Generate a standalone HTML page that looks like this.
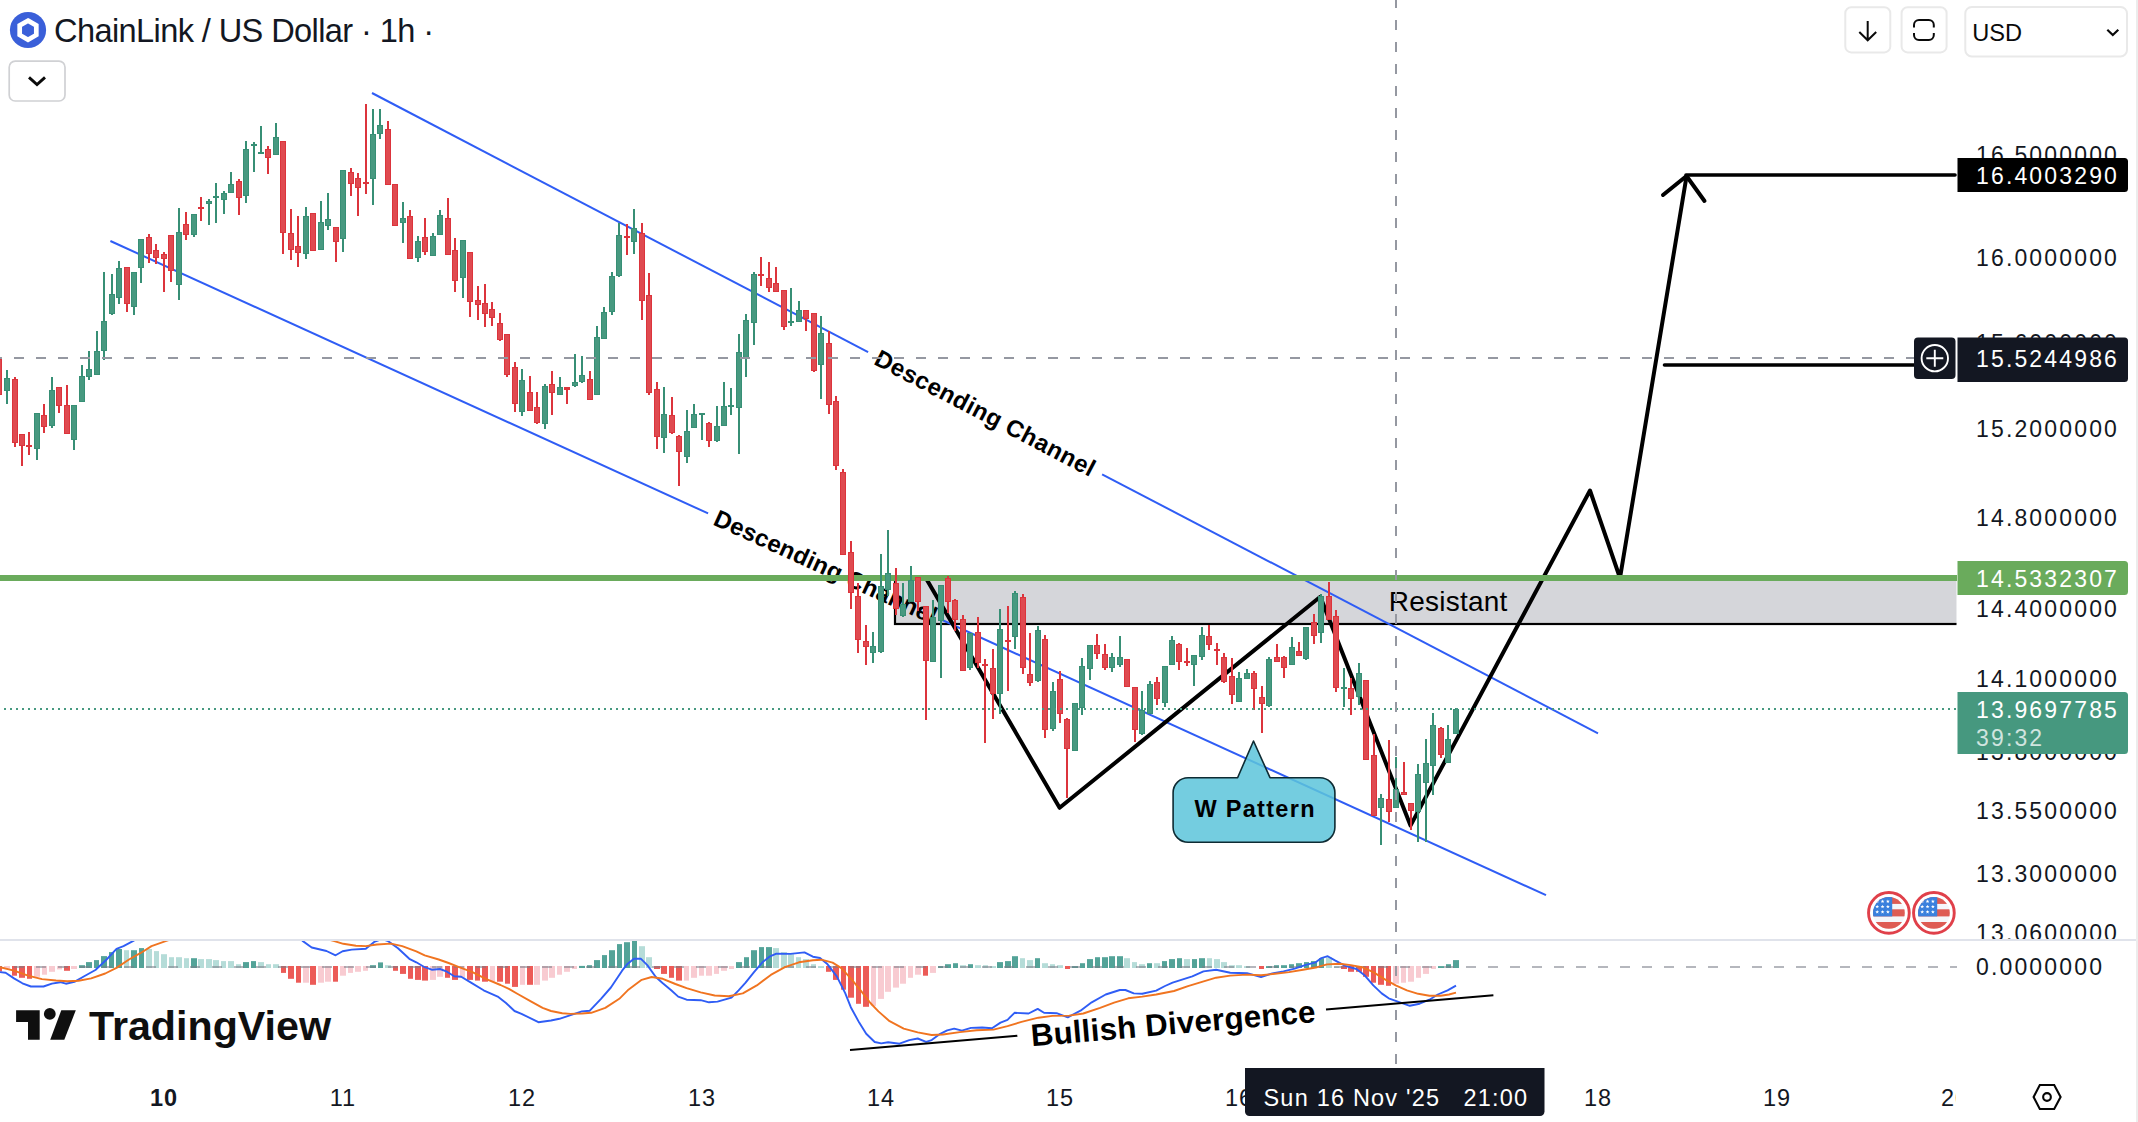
<!DOCTYPE html>
<html lang="en"><head><meta charset="utf-8"><title>ChainLink / US Dollar</title>
<style>
html,body{margin:0;padding:0;background:#fff;}
body{width:2138px;height:1122px;overflow:hidden;font-family:'Liberation Sans', Arial, sans-serif;}
svg{display:block;}
text{font-family:'Liberation Sans', Arial, sans-serif;}
.ax{font-size:23px;fill:#131722;letter-spacing:2.15px;}
.tm{font-size:23.5px;fill:#131722;letter-spacing:1px;}
</style></head><body>
<svg width="2138" height="1122" viewBox="0 0 2138 1122">
<rect width="2138" height="1122" fill="#ffffff"/>

<text class="ax" x="1976" y="163.2">16.5000000</text>
<text class="ax" x="1976" y="266.2">16.0000000</text>
<text class="ax" x="1976" y="351.2">15.6000000</text>
<text class="ax" x="1976" y="437.2">15.2000000</text>
<text class="ax" x="1976" y="526.2">14.8000000</text>
<text class="ax" x="1976" y="617.2">14.4000000</text>
<text class="ax" x="1976" y="687.2">14.1000000</text>
<text class="ax" x="1976" y="760.2">13.8000000</text>
<text class="ax" x="1976" y="819.2">13.5500000</text>
<text class="ax" x="1976" y="882.2">13.3000000</text>
<text class="ax" x="1976" y="941.2">13.0600000</text>
<rect x="0" y="940" width="2138" height="40" fill="#fff"/>
<rect x="0" y="939" width="2138" height="2" fill="#e0e3eb"/>
<text class="ax" x="1976" y="975.2">0.0000000</text>
<clipPath id="pc"><rect x="0" y="0" width="1956.5" height="939"/></clipPath>
<rect x="895" y="578" width="1100" height="46" fill="rgba(120,123,134,0.31)" stroke="#000" stroke-width="2.2" clip-path="url(#pc)"/>
<g stroke="#2f5df5" stroke-width="2" fill="none" stroke-linecap="butt">
<line x1="372" y1="93.0" x2="868.1" y2="352.1"/>
<line x1="1102.1" y1="474.3" x2="1598" y2="733.3"/>
<line x1="110.4" y1="241.0" x2="708.1" y2="513.4"/>
<line x1="940" y1="619.0" x2="1546" y2="895.2"/>
</g>
<text x="985.1" y="413.2" transform="rotate(27.57 985.1 413.2)" text-anchor="middle" dy="8.2" font-size="24" font-weight="700" fill="#000" textLength="245" lengthAdjust="spacing">Descending Channel</text>
<text x="825.5" y="566.9" transform="rotate(24.50 825.5 566.9)" text-anchor="middle" dy="8.2" font-size="24" font-weight="700" fill="#000" textLength="242" lengthAdjust="spacing">Descending Channel</text>
<text x="1388.8" y="610.8" font-size="28" fill="#000" textLength="118.5" lengthAdjust="spacing">Resistant</text>
<path d="M1188.1 777.7 H1237.6 L1253.5 741 L1270 777.7 H1319.9 a15 15 0 0 1 15 15 V827.3 a15 15 0 0 1 -15 15 H1188.1 a15 15 0 0 1 -15 -15 V792.7 a15 15 0 0 1 15 -15 Z" fill="#5cc4db" fill-opacity="0.85" stroke="#0e2b33" stroke-width="1.6" stroke-linejoin="round"/>
<text x="1254.5" y="817" text-anchor="middle" font-size="23.5" font-weight="700" fill="#000" textLength="120" lengthAdjust="spacing">W Pattern</text>
<g stroke="#000" stroke-width="4" fill="none" stroke-linejoin="round" stroke-linecap="butt">
<polyline points="927,580 1059.6,807.8 1320.3,596.8 1410.5,825.6 1590,490.5 1620,578 1686.5,176.5"/>
<polyline points="1663,195 1686.5,176 1704.5,201" stroke-linecap="round" stroke-linejoin="round"/>
<line x1="1686" y1="175" x2="1955" y2="175" stroke-width="3.6" stroke-linecap="round"/>
<line x1="1664.5" y1="365" x2="1916" y2="365" stroke-width="3.6" stroke-linecap="round"/>
</g>
<rect x="0" y="575" width="1957" height="6" fill="#6aab5c"/>
<g shape-rendering="crispEdges"><rect x="-2" y="358.5" width="2" height="36.5" fill="#dc343c"/><rect x="6" y="370" width="2" height="34" fill="#378f75"/><rect x="14" y="377" width="2" height="70" fill="#dc343c"/><rect x="21" y="434" width="2" height="32" fill="#dc343c"/><rect x="28" y="432" width="2" height="23" fill="#dc343c"/><rect x="36" y="413" width="2" height="47" fill="#378f75"/><rect x="43" y="404" width="2" height="29" fill="#dc343c"/><rect x="51" y="377" width="2" height="51" fill="#378f75"/><rect x="58" y="387" width="2" height="26" fill="#dc343c"/><rect x="66" y="385" width="2" height="49" fill="#dc343c"/><rect x="73" y="405" width="2" height="45" fill="#378f75"/><rect x="81" y="365" width="2" height="37" fill="#378f75"/><rect x="88" y="351" width="2" height="29" fill="#378f75"/><rect x="96" y="331" width="2" height="44" fill="#378f75"/><rect x="103" y="272" width="2" height="88" fill="#378f75"/><rect x="111" y="274" width="2" height="41" fill="#378f75"/><rect x="118" y="261" width="2" height="43" fill="#378f75"/><rect x="126" y="267" width="2" height="45" fill="#dc343c"/><rect x="133" y="272" width="2" height="43" fill="#378f75"/><rect x="140" y="239" width="2" height="44" fill="#378f75"/><rect x="148" y="234" width="2" height="29" fill="#dc343c"/><rect x="155" y="244" width="2" height="20" fill="#dc343c"/><rect x="163" y="252" width="2" height="40" fill="#dc343c"/><rect x="170" y="235" width="2" height="47" fill="#dc343c"/><rect x="178" y="208" width="2" height="92" fill="#378f75"/><rect x="185" y="212" width="2" height="28" fill="#dc343c"/><rect x="193" y="214" width="2" height="23" fill="#378f75"/><rect x="200" y="197" width="2" height="24" fill="#dc343c"/><rect x="208" y="199" width="2" height="26" fill="#378f75"/><rect x="215" y="183" width="2" height="40" fill="#378f75"/><rect x="223" y="191" width="2" height="23" fill="#378f75"/><rect x="230" y="172" width="2" height="21" fill="#378f75"/><rect x="238" y="179" width="2" height="36" fill="#dc343c"/><rect x="245" y="141" width="2" height="62" fill="#378f75"/><rect x="253" y="142" width="2" height="30" fill="#378f75"/><rect x="260" y="126" width="2" height="28" fill="#378f75"/><rect x="267" y="146" width="2" height="28" fill="#dc343c"/><rect x="275" y="123" width="2" height="32" fill="#378f75"/><rect x="282" y="141" width="2" height="113" fill="#dc343c"/><rect x="290" y="209" width="2" height="51" fill="#dc343c"/><rect x="297" y="216" width="2" height="51" fill="#dc343c"/><rect x="305" y="207" width="2" height="52" fill="#378f75"/><rect x="312" y="213" width="2" height="38" fill="#dc343c"/><rect x="320" y="201" width="2" height="49" fill="#378f75"/><rect x="327" y="193" width="2" height="37" fill="#378f75"/><rect x="335" y="227" width="2" height="35" fill="#dc343c"/><rect x="342" y="170" width="2" height="82" fill="#378f75"/><rect x="350" y="168" width="2" height="28" fill="#dc343c"/><rect x="357" y="173" width="2" height="43" fill="#dc343c"/><rect x="365" y="104" width="2" height="90" fill="#dc343c"/><rect x="372" y="109" width="2" height="96" fill="#378f75"/><rect x="379" y="109" width="2" height="30" fill="#378f75"/><rect x="387" y="121" width="2" height="64" fill="#dc343c"/><rect x="394" y="184" width="2" height="42" fill="#dc343c"/><rect x="402" y="202" width="2" height="41" fill="#378f75"/><rect x="409" y="210" width="2" height="49" fill="#dc343c"/><rect x="417" y="236" width="2" height="26" fill="#378f75"/><rect x="424" y="218" width="2" height="37" fill="#dc343c"/><rect x="432" y="233" width="2" height="23" fill="#378f75"/><rect x="439" y="210" width="2" height="25" fill="#378f75"/><rect x="447" y="198" width="2" height="57" fill="#dc343c"/><rect x="454" y="238" width="2" height="54" fill="#dc343c"/><rect x="462" y="240" width="2" height="58" fill="#378f75"/><rect x="469" y="252" width="2" height="65" fill="#dc343c"/><rect x="477" y="286" width="2" height="34" fill="#dc343c"/><rect x="484" y="284" width="2" height="43" fill="#dc343c"/><rect x="491" y="302" width="2" height="24" fill="#dc343c"/><rect x="499" y="313" width="2" height="28" fill="#dc343c"/><rect x="506" y="334" width="2" height="43" fill="#dc343c"/><rect x="514" y="362" width="2" height="50" fill="#dc343c"/><rect x="521" y="369" width="2" height="47" fill="#378f75"/><rect x="529" y="376" width="2" height="35" fill="#dc343c"/><rect x="536" y="392" width="2" height="32" fill="#dc343c"/><rect x="544" y="384" width="2" height="45" fill="#378f75"/><rect x="551" y="371" width="2" height="44" fill="#dc343c"/><rect x="559" y="377" width="2" height="18" fill="#378f75"/><rect x="566" y="387" width="2" height="17" fill="#dc343c"/><rect x="574" y="354" width="2" height="33" fill="#378f75"/><rect x="581" y="356" width="2" height="27" fill="#378f75"/><rect x="589" y="371" width="2" height="29" fill="#dc343c"/><rect x="596" y="326" width="2" height="69" fill="#378f75"/><rect x="603" y="307" width="2" height="32" fill="#378f75"/><rect x="611" y="272" width="2" height="43" fill="#378f75"/><rect x="618" y="223" width="2" height="54" fill="#378f75"/><rect x="626" y="224" width="2" height="31" fill="#dc343c"/><rect x="633" y="209" width="2" height="45" fill="#378f75"/><rect x="641" y="223" width="2" height="97" fill="#dc343c"/><rect x="648" y="273" width="2" height="122" fill="#dc343c"/><rect x="656" y="382" width="2" height="67" fill="#dc343c"/><rect x="663" y="387" width="2" height="66" fill="#378f75"/><rect x="671" y="397" width="2" height="37" fill="#dc343c"/><rect x="678" y="435" width="2" height="51" fill="#dc343c"/><rect x="686" y="410" width="2" height="53" fill="#378f75"/><rect x="693" y="404" width="2" height="24" fill="#378f75"/><rect x="701" y="413" width="2" height="27" fill="#378f75"/><rect x="708" y="422" width="2" height="25" fill="#dc343c"/><rect x="716" y="406" width="2" height="36" fill="#378f75"/><rect x="723" y="382" width="2" height="44" fill="#378f75"/><rect x="730" y="388" width="2" height="27" fill="#378f75"/><rect x="738" y="334" width="2" height="120" fill="#378f75"/><rect x="745" y="314" width="2" height="63" fill="#378f75"/><rect x="753" y="272" width="2" height="73" fill="#378f75"/><rect x="760" y="257" width="2" height="29" fill="#dc343c"/><rect x="768" y="262" width="2" height="30" fill="#dc343c"/><rect x="775" y="267" width="2" height="25" fill="#dc343c"/><rect x="783" y="290" width="2" height="40" fill="#dc343c"/><rect x="790" y="288" width="2" height="38" fill="#378f75"/><rect x="798" y="301" width="2" height="21" fill="#378f75"/><rect x="805" y="310" width="2" height="21" fill="#dc343c"/><rect x="813" y="313" width="2" height="59" fill="#dc343c"/><rect x="820" y="316" width="2" height="83" fill="#378f75"/><rect x="828" y="331" width="2" height="83" fill="#dc343c"/><rect x="835" y="396" width="2" height="74" fill="#dc343c"/><rect x="842" y="469" width="2" height="86" fill="#dc343c"/><rect x="850" y="541" width="2" height="68" fill="#dc343c"/><rect x="857" y="583" width="2" height="70" fill="#dc343c"/><rect x="865" y="625" width="2" height="40" fill="#dc343c"/><rect x="872" y="632" width="2" height="31" fill="#378f75"/><rect x="880" y="554" width="2" height="99" fill="#378f75"/><rect x="887" y="530" width="2" height="66" fill="#378f75"/><rect x="895" y="568" width="2" height="47" fill="#dc343c"/><rect x="902" y="583" width="2" height="34" fill="#378f75"/><rect x="910" y="566" width="2" height="36" fill="#378f75"/><rect x="917" y="577" width="2" height="34" fill="#dc343c"/><rect x="925" y="606" width="2" height="114" fill="#dc343c"/><rect x="932" y="600" width="2" height="62" fill="#378f75"/><rect x="940" y="585" width="2" height="93" fill="#378f75"/><rect x="947" y="576" width="2" height="37" fill="#dc343c"/><rect x="954" y="599" width="2" height="32" fill="#dc343c"/><rect x="962" y="615" width="2" height="56" fill="#dc343c"/><rect x="969" y="633" width="2" height="37" fill="#378f75"/><rect x="977" y="617" width="2" height="51" fill="#dc343c"/><rect x="984" y="659" width="2" height="84" fill="#dc343c"/><rect x="992" y="649" width="2" height="70" fill="#dc343c"/><rect x="999" y="609" width="2" height="105" fill="#378f75"/><rect x="1007" y="606" width="2" height="85" fill="#dc343c"/><rect x="1014" y="591" width="2" height="58" fill="#378f75"/><rect x="1022" y="594" width="2" height="80" fill="#dc343c"/><rect x="1029" y="633" width="2" height="53" fill="#dc343c"/><rect x="1037" y="626" width="2" height="56" fill="#378f75"/><rect x="1044" y="635" width="2" height="103" fill="#dc343c"/><rect x="1052" y="682" width="2" height="49" fill="#378f75"/><rect x="1059" y="671" width="2" height="52" fill="#dc343c"/><rect x="1066" y="718" width="2" height="80" fill="#dc343c"/><rect x="1074" y="703" width="2" height="48" fill="#378f75"/><rect x="1081" y="658" width="2" height="57" fill="#378f75"/><rect x="1089" y="645" width="2" height="35" fill="#378f75"/><rect x="1096" y="634" width="2" height="25" fill="#dc343c"/><rect x="1104" y="644" width="2" height="26" fill="#dc343c"/><rect x="1111" y="653" width="2" height="19" fill="#378f75"/><rect x="1119" y="636" width="2" height="31" fill="#378f75"/><rect x="1126" y="659" width="2" height="28" fill="#dc343c"/><rect x="1134" y="687" width="2" height="55" fill="#dc343c"/><rect x="1141" y="691" width="2" height="44" fill="#378f75"/><rect x="1149" y="681" width="2" height="33" fill="#378f75"/><rect x="1156" y="677" width="2" height="28" fill="#dc343c"/><rect x="1164" y="666" width="2" height="41" fill="#378f75"/><rect x="1171" y="636" width="2" height="29" fill="#378f75"/><rect x="1178" y="643" width="2" height="27" fill="#dc343c"/><rect x="1186" y="648" width="2" height="18" fill="#dc343c"/><rect x="1193" y="655" width="2" height="31" fill="#378f75"/><rect x="1201" y="627" width="2" height="33" fill="#378f75"/><rect x="1208" y="625" width="2" height="25" fill="#dc343c"/><rect x="1216" y="643" width="2" height="22" fill="#dc343c"/><rect x="1223" y="653" width="2" height="30" fill="#dc343c"/><rect x="1231" y="658" width="2" height="46" fill="#dc343c"/><rect x="1238" y="672" width="2" height="30" fill="#378f75"/><rect x="1246" y="669" width="2" height="10" fill="#378f75"/><rect x="1253" y="671" width="2" height="39" fill="#dc343c"/><rect x="1261" y="686" width="2" height="47" fill="#dc343c"/><rect x="1268" y="657" width="2" height="50" fill="#378f75"/><rect x="1276" y="644" width="2" height="18" fill="#dc343c"/><rect x="1283" y="656" width="2" height="22" fill="#dc343c"/><rect x="1291" y="637" width="2" height="28" fill="#378f75"/><rect x="1298" y="642" width="2" height="14" fill="#dc343c"/><rect x="1305" y="627" width="2" height="33" fill="#378f75"/><rect x="1313" y="614" width="2" height="30" fill="#dc343c"/><rect x="1320" y="594" width="2" height="49" fill="#378f75"/><rect x="1328" y="582" width="2" height="38" fill="#dc343c"/><rect x="1335" y="610" width="2" height="82" fill="#dc343c"/><rect x="1343" y="668" width="2" height="39" fill="#378f75"/><rect x="1350" y="678" width="2" height="37" fill="#dc343c"/><rect x="1358" y="663" width="2" height="42" fill="#378f75"/><rect x="1365" y="680" width="2" height="80" fill="#dc343c"/><rect x="1373" y="734" width="2" height="82" fill="#dc343c"/><rect x="1380" y="794" width="2" height="51" fill="#378f75"/><rect x="1388" y="740" width="2" height="82" fill="#dc343c"/><rect x="1395" y="757" width="2" height="51" fill="#378f75"/><rect x="1403" y="762" width="2" height="33" fill="#dc343c"/><rect x="1410" y="803" width="2" height="27" fill="#dc343c"/><rect x="1417" y="764" width="2" height="78" fill="#378f75"/><rect x="1425" y="739" width="2" height="103" fill="#378f75"/><rect x="1432" y="713" width="2" height="82" fill="#378f75"/><rect x="1440" y="727" width="2" height="31" fill="#dc343c"/><rect x="1447" y="725" width="2" height="38" fill="#378f75"/><rect x="1455" y="708" width="2" height="26" fill="#378f75"/><rect x="-4" y="358.5" width="6" height="36.5" fill="#dc343c"/><rect x="-3" y="359.5" width="4" height="34.5" fill="#df4a50"/><rect x="4" y="378" width="6" height="13" fill="#378f75"/><rect x="5" y="379" width="4" height="11" fill="#479980"/><rect x="12" y="379" width="6" height="64" fill="#dc343c"/><rect x="13" y="380" width="4" height="62" fill="#df4a50"/><rect x="19" y="434" width="6" height="12" fill="#dc343c"/><rect x="20" y="435" width="4" height="10" fill="#df4a50"/><rect x="26" y="445" width="6" height="2" fill="#dc343c"/><rect x="34" y="413" width="6" height="36" fill="#378f75"/><rect x="35" y="414" width="4" height="34" fill="#479980"/><rect x="41" y="415" width="6" height="12" fill="#dc343c"/><rect x="42" y="416" width="4" height="10" fill="#df4a50"/><rect x="49" y="390" width="6" height="36" fill="#378f75"/><rect x="50" y="391" width="4" height="34" fill="#479980"/><rect x="56" y="387" width="6" height="19" fill="#dc343c"/><rect x="57" y="388" width="4" height="17" fill="#df4a50"/><rect x="64" y="405" width="6" height="29" fill="#dc343c"/><rect x="65" y="406" width="4" height="27" fill="#df4a50"/><rect x="71" y="405" width="6" height="35" fill="#378f75"/><rect x="72" y="406" width="4" height="33" fill="#479980"/><rect x="79" y="376" width="6" height="26" fill="#378f75"/><rect x="80" y="377" width="4" height="24" fill="#479980"/><rect x="86" y="369" width="6" height="8" fill="#378f75"/><rect x="87" y="370" width="4" height="6" fill="#479980"/><rect x="94" y="351" width="6" height="24" fill="#378f75"/><rect x="95" y="352" width="4" height="22" fill="#479980"/><rect x="101" y="321" width="6" height="30" fill="#378f75"/><rect x="102" y="322" width="4" height="28" fill="#479980"/><rect x="109" y="294" width="6" height="20" fill="#378f75"/><rect x="110" y="295" width="4" height="18" fill="#479980"/><rect x="116" y="268" width="6" height="30" fill="#378f75"/><rect x="117" y="269" width="4" height="28" fill="#479980"/><rect x="124" y="267" width="6" height="37" fill="#dc343c"/><rect x="125" y="268" width="4" height="35" fill="#df4a50"/><rect x="131" y="272" width="6" height="35" fill="#378f75"/><rect x="132" y="273" width="4" height="33" fill="#479980"/><rect x="138" y="239" width="6" height="29" fill="#378f75"/><rect x="139" y="240" width="4" height="27" fill="#479980"/><rect x="146" y="237" width="6" height="17" fill="#dc343c"/><rect x="147" y="238" width="4" height="15" fill="#df4a50"/><rect x="153" y="250" width="6" height="8" fill="#dc343c"/><rect x="154" y="251" width="4" height="6" fill="#df4a50"/><rect x="161" y="254" width="6" height="5" fill="#dc343c"/><rect x="162" y="255" width="4" height="3" fill="#df4a50"/><rect x="168" y="235" width="6" height="36" fill="#dc343c"/><rect x="169" y="236" width="4" height="34" fill="#df4a50"/><rect x="176" y="232" width="6" height="53" fill="#378f75"/><rect x="177" y="233" width="4" height="51" fill="#479980"/><rect x="183" y="224" width="6" height="11" fill="#dc343c"/><rect x="184" y="225" width="4" height="9" fill="#df4a50"/><rect x="191" y="214" width="6" height="21" fill="#378f75"/><rect x="192" y="215" width="4" height="19" fill="#479980"/><rect x="198" y="207" width="6" height="2" fill="#dc343c"/><rect x="206" y="201" width="6" height="3" fill="#378f75"/><rect x="207" y="202" width="4" height="1" fill="#479980"/><rect x="213" y="196" width="6" height="2" fill="#378f75"/><rect x="221" y="193" width="6" height="7" fill="#378f75"/><rect x="222" y="194" width="4" height="5" fill="#479980"/><rect x="228" y="184" width="6" height="9" fill="#378f75"/><rect x="229" y="185" width="4" height="7" fill="#479980"/><rect x="236" y="181" width="6" height="17" fill="#dc343c"/><rect x="237" y="182" width="4" height="15" fill="#df4a50"/><rect x="243" y="149" width="6" height="47" fill="#378f75"/><rect x="244" y="150" width="4" height="45" fill="#479980"/><rect x="251" y="144" width="6" height="2" fill="#378f75"/><rect x="258" y="152" width="6" height="2" fill="#378f75"/><rect x="265" y="149" width="6" height="9" fill="#dc343c"/><rect x="266" y="150" width="4" height="7" fill="#df4a50"/><rect x="273" y="137" width="6" height="18" fill="#378f75"/><rect x="274" y="138" width="4" height="16" fill="#479980"/><rect x="280" y="141" width="6" height="92" fill="#dc343c"/><rect x="281" y="142" width="4" height="90" fill="#df4a50"/><rect x="288" y="233" width="6" height="17" fill="#dc343c"/><rect x="289" y="234" width="4" height="15" fill="#df4a50"/><rect x="295" y="246" width="6" height="7" fill="#dc343c"/><rect x="296" y="247" width="4" height="5" fill="#df4a50"/><rect x="303" y="216" width="6" height="38" fill="#378f75"/><rect x="304" y="217" width="4" height="36" fill="#479980"/><rect x="310" y="213" width="6" height="38" fill="#dc343c"/><rect x="311" y="214" width="4" height="36" fill="#df4a50"/><rect x="318" y="222" width="6" height="28" fill="#378f75"/><rect x="319" y="223" width="4" height="26" fill="#479980"/><rect x="325" y="219" width="6" height="7" fill="#378f75"/><rect x="326" y="220" width="4" height="5" fill="#479980"/><rect x="333" y="227" width="6" height="15" fill="#dc343c"/><rect x="334" y="228" width="4" height="13" fill="#df4a50"/><rect x="340" y="170" width="6" height="69" fill="#378f75"/><rect x="341" y="171" width="4" height="67" fill="#479980"/><rect x="348" y="172" width="6" height="12" fill="#dc343c"/><rect x="349" y="173" width="4" height="10" fill="#df4a50"/><rect x="355" y="178" width="6" height="10" fill="#dc343c"/><rect x="356" y="179" width="4" height="8" fill="#df4a50"/><rect x="363" y="182" width="6" height="2" fill="#dc343c"/><rect x="370" y="134" width="6" height="45" fill="#378f75"/><rect x="371" y="135" width="4" height="43" fill="#479980"/><rect x="377" y="125" width="6" height="9" fill="#378f75"/><rect x="378" y="126" width="4" height="7" fill="#479980"/><rect x="385" y="129" width="6" height="56" fill="#dc343c"/><rect x="386" y="130" width="4" height="54" fill="#df4a50"/><rect x="392" y="184" width="6" height="42" fill="#dc343c"/><rect x="393" y="185" width="4" height="40" fill="#df4a50"/><rect x="400" y="218" width="6" height="5" fill="#378f75"/><rect x="401" y="219" width="4" height="3" fill="#479980"/><rect x="407" y="216" width="6" height="43" fill="#dc343c"/><rect x="408" y="217" width="4" height="41" fill="#df4a50"/><rect x="415" y="241" width="6" height="17" fill="#378f75"/><rect x="416" y="242" width="4" height="15" fill="#479980"/><rect x="422" y="237" width="6" height="15" fill="#dc343c"/><rect x="423" y="238" width="4" height="13" fill="#df4a50"/><rect x="430" y="236" width="6" height="20" fill="#378f75"/><rect x="431" y="237" width="4" height="18" fill="#479980"/><rect x="437" y="215" width="6" height="20" fill="#378f75"/><rect x="438" y="216" width="4" height="18" fill="#479980"/><rect x="445" y="218" width="6" height="37" fill="#dc343c"/><rect x="446" y="219" width="4" height="35" fill="#df4a50"/><rect x="452" y="250" width="6" height="31" fill="#dc343c"/><rect x="453" y="251" width="4" height="29" fill="#df4a50"/><rect x="460" y="240" width="6" height="38" fill="#378f75"/><rect x="461" y="241" width="4" height="36" fill="#479980"/><rect x="467" y="252" width="6" height="50" fill="#dc343c"/><rect x="468" y="253" width="4" height="48" fill="#df4a50"/><rect x="475" y="300" width="6" height="5" fill="#dc343c"/><rect x="476" y="301" width="4" height="3" fill="#df4a50"/><rect x="482" y="303" width="6" height="11" fill="#dc343c"/><rect x="483" y="304" width="4" height="9" fill="#df4a50"/><rect x="489" y="309" width="6" height="9" fill="#dc343c"/><rect x="490" y="310" width="4" height="7" fill="#df4a50"/><rect x="497" y="323" width="6" height="17" fill="#dc343c"/><rect x="498" y="324" width="4" height="15" fill="#df4a50"/><rect x="504" y="334" width="6" height="41" fill="#dc343c"/><rect x="505" y="335" width="4" height="39" fill="#df4a50"/><rect x="512" y="367" width="6" height="37" fill="#dc343c"/><rect x="513" y="368" width="4" height="35" fill="#df4a50"/><rect x="519" y="380" width="6" height="32" fill="#378f75"/><rect x="520" y="381" width="4" height="30" fill="#479980"/><rect x="527" y="392" width="6" height="19" fill="#dc343c"/><rect x="528" y="393" width="4" height="17" fill="#df4a50"/><rect x="534" y="407" width="6" height="16" fill="#dc343c"/><rect x="535" y="408" width="4" height="14" fill="#df4a50"/><rect x="542" y="386" width="6" height="38" fill="#378f75"/><rect x="543" y="387" width="4" height="36" fill="#479980"/><rect x="549" y="384" width="6" height="9" fill="#dc343c"/><rect x="550" y="385" width="4" height="7" fill="#df4a50"/><rect x="557" y="387" width="6" height="8" fill="#378f75"/><rect x="558" y="388" width="4" height="6" fill="#479980"/><rect x="564" y="387" width="6" height="2.5" fill="#dc343c"/><rect x="572" y="382" width="6" height="4" fill="#378f75"/><rect x="573" y="383" width="4" height="2" fill="#479980"/><rect x="579" y="375" width="6" height="7" fill="#378f75"/><rect x="580" y="376" width="4" height="5" fill="#479980"/><rect x="587" y="379" width="6" height="21" fill="#dc343c"/><rect x="588" y="380" width="4" height="19" fill="#df4a50"/><rect x="594" y="337" width="6" height="58" fill="#378f75"/><rect x="595" y="338" width="4" height="56" fill="#479980"/><rect x="601" y="312" width="6" height="27" fill="#378f75"/><rect x="602" y="313" width="4" height="25" fill="#479980"/><rect x="609" y="276" width="6" height="36" fill="#378f75"/><rect x="610" y="277" width="4" height="34" fill="#479980"/><rect x="616" y="235" width="6" height="41" fill="#378f75"/><rect x="617" y="236" width="4" height="39" fill="#479980"/><rect x="624" y="236" width="6" height="2" fill="#dc343c"/><rect x="631" y="228" width="6" height="14" fill="#378f75"/><rect x="632" y="229" width="4" height="12" fill="#479980"/><rect x="639" y="233" width="6" height="68" fill="#dc343c"/><rect x="640" y="234" width="4" height="66" fill="#df4a50"/><rect x="646" y="295" width="6" height="98" fill="#dc343c"/><rect x="647" y="296" width="4" height="96" fill="#df4a50"/><rect x="654" y="389" width="6" height="48" fill="#dc343c"/><rect x="655" y="390" width="4" height="46" fill="#df4a50"/><rect x="661" y="414" width="6" height="24" fill="#378f75"/><rect x="662" y="415" width="4" height="22" fill="#479980"/><rect x="669" y="415" width="6" height="18" fill="#dc343c"/><rect x="670" y="416" width="4" height="16" fill="#df4a50"/><rect x="676" y="436" width="6" height="16" fill="#dc343c"/><rect x="677" y="437" width="4" height="14" fill="#df4a50"/><rect x="684" y="431" width="6" height="26" fill="#378f75"/><rect x="685" y="432" width="4" height="24" fill="#479980"/><rect x="691" y="414" width="6" height="14" fill="#378f75"/><rect x="692" y="415" width="4" height="12" fill="#479980"/><rect x="699" y="413" width="6" height="2" fill="#378f75"/><rect x="706" y="423" width="6" height="18" fill="#dc343c"/><rect x="707" y="424" width="4" height="16" fill="#df4a50"/><rect x="714" y="426" width="6" height="15" fill="#378f75"/><rect x="715" y="427" width="4" height="13" fill="#479980"/><rect x="721" y="406" width="6" height="20" fill="#378f75"/><rect x="722" y="407" width="4" height="18" fill="#479980"/><rect x="728" y="404.5" width="6" height="2" fill="#378f75"/><rect x="736" y="352" width="6" height="56" fill="#378f75"/><rect x="737" y="353" width="4" height="54" fill="#479980"/><rect x="743" y="320" width="6" height="38" fill="#378f75"/><rect x="744" y="321" width="4" height="36" fill="#479980"/><rect x="751" y="274" width="6" height="49" fill="#378f75"/><rect x="752" y="275" width="4" height="47" fill="#479980"/><rect x="758" y="274" width="6" height="2" fill="#dc343c"/><rect x="766" y="278" width="6" height="10" fill="#dc343c"/><rect x="767" y="279" width="4" height="8" fill="#df4a50"/><rect x="773" y="283" width="6" height="9" fill="#dc343c"/><rect x="774" y="284" width="4" height="7" fill="#df4a50"/><rect x="781" y="290" width="6" height="37" fill="#dc343c"/><rect x="782" y="291" width="4" height="35" fill="#df4a50"/><rect x="788" y="321" width="6" height="2" fill="#378f75"/><rect x="796" y="310" width="6" height="12" fill="#378f75"/><rect x="797" y="311" width="4" height="10" fill="#479980"/><rect x="803" y="310" width="6" height="9" fill="#dc343c"/><rect x="804" y="311" width="4" height="7" fill="#df4a50"/><rect x="811" y="313" width="6" height="58" fill="#dc343c"/><rect x="812" y="314" width="4" height="56" fill="#df4a50"/><rect x="818" y="333" width="6" height="32" fill="#378f75"/><rect x="819" y="334" width="4" height="30" fill="#479980"/><rect x="826" y="343" width="6" height="62" fill="#dc343c"/><rect x="827" y="344" width="4" height="60" fill="#df4a50"/><rect x="833" y="401" width="6" height="65" fill="#dc343c"/><rect x="834" y="402" width="4" height="63" fill="#df4a50"/><rect x="840" y="472" width="6" height="83" fill="#dc343c"/><rect x="841" y="473" width="4" height="81" fill="#df4a50"/><rect x="848" y="552" width="6" height="41" fill="#dc343c"/><rect x="849" y="553" width="4" height="39" fill="#df4a50"/><rect x="855" y="596" width="6" height="44" fill="#dc343c"/><rect x="856" y="597" width="4" height="42" fill="#df4a50"/><rect x="863" y="641" width="6" height="6" fill="#dc343c"/><rect x="864" y="642" width="4" height="4" fill="#df4a50"/><rect x="870" y="646" width="6" height="7" fill="#378f75"/><rect x="871" y="647" width="4" height="5" fill="#479980"/><rect x="878" y="586" width="6" height="66" fill="#378f75"/><rect x="879" y="587" width="4" height="64" fill="#479980"/><rect x="885" y="573" width="6" height="17" fill="#378f75"/><rect x="886" y="574" width="4" height="15" fill="#479980"/><rect x="893" y="583" width="6" height="26" fill="#dc343c"/><rect x="894" y="584" width="4" height="24" fill="#df4a50"/><rect x="900" y="604" width="6" height="12" fill="#378f75"/><rect x="901" y="605" width="4" height="10" fill="#479980"/><rect x="908" y="580" width="6" height="22" fill="#378f75"/><rect x="909" y="581" width="4" height="20" fill="#479980"/><rect x="915" y="577" width="6" height="25" fill="#dc343c"/><rect x="916" y="578" width="4" height="23" fill="#df4a50"/><rect x="923" y="606" width="6" height="55" fill="#dc343c"/><rect x="924" y="607" width="4" height="53" fill="#df4a50"/><rect x="930" y="617" width="6" height="45" fill="#378f75"/><rect x="931" y="618" width="4" height="43" fill="#479980"/><rect x="938" y="585" width="6" height="36" fill="#378f75"/><rect x="939" y="586" width="4" height="34" fill="#479980"/><rect x="945" y="578" width="6" height="24" fill="#dc343c"/><rect x="946" y="579" width="4" height="22" fill="#df4a50"/><rect x="952" y="600" width="6" height="20" fill="#dc343c"/><rect x="953" y="601" width="4" height="18" fill="#df4a50"/><rect x="960" y="619" width="6" height="52" fill="#dc343c"/><rect x="961" y="620" width="4" height="50" fill="#df4a50"/><rect x="967" y="633" width="6" height="35" fill="#378f75"/><rect x="968" y="634" width="4" height="33" fill="#479980"/><rect x="975" y="632" width="6" height="31" fill="#dc343c"/><rect x="976" y="633" width="4" height="29" fill="#df4a50"/><rect x="982" y="664" width="6" height="2" fill="#dc343c"/><rect x="990" y="668" width="6" height="26" fill="#dc343c"/><rect x="991" y="669" width="4" height="24" fill="#df4a50"/><rect x="997" y="629" width="6" height="65" fill="#378f75"/><rect x="998" y="630" width="4" height="63" fill="#479980"/><rect x="1005" y="640" width="6" height="2" fill="#dc343c"/><rect x="1012" y="593" width="6" height="44" fill="#378f75"/><rect x="1013" y="594" width="4" height="42" fill="#479980"/><rect x="1020" y="597" width="6" height="71" fill="#dc343c"/><rect x="1021" y="598" width="4" height="69" fill="#df4a50"/><rect x="1027" y="674" width="6" height="9" fill="#dc343c"/><rect x="1028" y="675" width="4" height="7" fill="#df4a50"/><rect x="1035" y="630" width="6" height="51" fill="#378f75"/><rect x="1036" y="631" width="4" height="49" fill="#479980"/><rect x="1042" y="639" width="6" height="91" fill="#dc343c"/><rect x="1043" y="640" width="4" height="89" fill="#df4a50"/><rect x="1050" y="691" width="6" height="38" fill="#378f75"/><rect x="1051" y="692" width="4" height="36" fill="#479980"/><rect x="1057" y="679" width="6" height="35" fill="#dc343c"/><rect x="1058" y="680" width="4" height="33" fill="#df4a50"/><rect x="1064" y="719" width="6" height="30" fill="#dc343c"/><rect x="1065" y="720" width="4" height="28" fill="#df4a50"/><rect x="1072" y="703" width="6" height="48" fill="#378f75"/><rect x="1073" y="704" width="4" height="46" fill="#479980"/><rect x="1079" y="666" width="6" height="42" fill="#378f75"/><rect x="1080" y="667" width="4" height="40" fill="#479980"/><rect x="1087" y="645" width="6" height="24" fill="#378f75"/><rect x="1088" y="646" width="4" height="22" fill="#479980"/><rect x="1094" y="645" width="6" height="9" fill="#dc343c"/><rect x="1095" y="646" width="4" height="7" fill="#df4a50"/><rect x="1102" y="654" width="6" height="14" fill="#dc343c"/><rect x="1103" y="655" width="4" height="12" fill="#df4a50"/><rect x="1109" y="657" width="6" height="11" fill="#378f75"/><rect x="1110" y="658" width="4" height="9" fill="#479980"/><rect x="1117" y="657" width="6" height="8" fill="#378f75"/><rect x="1118" y="658" width="4" height="6" fill="#479980"/><rect x="1124" y="659" width="6" height="28" fill="#dc343c"/><rect x="1125" y="660" width="4" height="26" fill="#df4a50"/><rect x="1132" y="687" width="6" height="43" fill="#dc343c"/><rect x="1133" y="688" width="4" height="41" fill="#df4a50"/><rect x="1139" y="710" width="6" height="24" fill="#378f75"/><rect x="1140" y="711" width="4" height="22" fill="#479980"/><rect x="1147" y="684" width="6" height="30" fill="#378f75"/><rect x="1148" y="685" width="4" height="28" fill="#479980"/><rect x="1154" y="682" width="6" height="17" fill="#dc343c"/><rect x="1155" y="683" width="4" height="15" fill="#df4a50"/><rect x="1162" y="666" width="6" height="37" fill="#378f75"/><rect x="1163" y="667" width="4" height="35" fill="#479980"/><rect x="1169" y="640" width="6" height="25" fill="#378f75"/><rect x="1170" y="641" width="4" height="23" fill="#479980"/><rect x="1176" y="644" width="6" height="18" fill="#dc343c"/><rect x="1177" y="645" width="4" height="16" fill="#df4a50"/><rect x="1184" y="661" width="6" height="2" fill="#dc343c"/><rect x="1191" y="655" width="6" height="10" fill="#378f75"/><rect x="1192" y="656" width="4" height="8" fill="#479980"/><rect x="1199" y="635" width="6" height="22" fill="#378f75"/><rect x="1200" y="636" width="4" height="20" fill="#479980"/><rect x="1206" y="636" width="6" height="9" fill="#dc343c"/><rect x="1207" y="637" width="4" height="7" fill="#df4a50"/><rect x="1214" y="649" width="6" height="2" fill="#dc343c"/><rect x="1221" y="657" width="6" height="25" fill="#dc343c"/><rect x="1222" y="658" width="4" height="23" fill="#df4a50"/><rect x="1229" y="676" width="6" height="19" fill="#dc343c"/><rect x="1230" y="677" width="4" height="17" fill="#df4a50"/><rect x="1236" y="678" width="6" height="24" fill="#378f75"/><rect x="1237" y="679" width="4" height="22" fill="#479980"/><rect x="1244" y="673" width="6" height="6" fill="#378f75"/><rect x="1245" y="674" width="4" height="4" fill="#479980"/><rect x="1251" y="673" width="6" height="16" fill="#dc343c"/><rect x="1252" y="674" width="4" height="14" fill="#df4a50"/><rect x="1259" y="697" width="6" height="7" fill="#dc343c"/><rect x="1260" y="698" width="4" height="5" fill="#df4a50"/><rect x="1266" y="659" width="6" height="47" fill="#378f75"/><rect x="1267" y="660" width="4" height="45" fill="#479980"/><rect x="1274" y="657" width="6" height="5" fill="#dc343c"/><rect x="1275" y="658" width="4" height="3" fill="#df4a50"/><rect x="1281" y="657" width="6" height="11" fill="#dc343c"/><rect x="1282" y="658" width="4" height="9" fill="#df4a50"/><rect x="1289" y="647" width="6" height="18" fill="#378f75"/><rect x="1290" y="648" width="4" height="16" fill="#479980"/><rect x="1296" y="651" width="6" height="5" fill="#dc343c"/><rect x="1297" y="652" width="4" height="3" fill="#df4a50"/><rect x="1303" y="627" width="6" height="32" fill="#378f75"/><rect x="1304" y="628" width="4" height="30" fill="#479980"/><rect x="1311" y="622" width="6" height="14" fill="#dc343c"/><rect x="1312" y="623" width="4" height="12" fill="#df4a50"/><rect x="1318" y="596" width="6" height="37" fill="#378f75"/><rect x="1319" y="597" width="4" height="35" fill="#479980"/><rect x="1326" y="596" width="6" height="24" fill="#dc343c"/><rect x="1327" y="597" width="4" height="22" fill="#df4a50"/><rect x="1333" y="616" width="6" height="72" fill="#dc343c"/><rect x="1334" y="617" width="4" height="70" fill="#df4a50"/><rect x="1341" y="687" width="6" height="2" fill="#378f75"/><rect x="1348" y="688" width="6" height="11" fill="#dc343c"/><rect x="1349" y="689" width="4" height="9" fill="#df4a50"/><rect x="1356" y="673" width="6" height="24" fill="#378f75"/><rect x="1357" y="674" width="4" height="22" fill="#479980"/><rect x="1363" y="680" width="6" height="80" fill="#dc343c"/><rect x="1364" y="681" width="4" height="78" fill="#df4a50"/><rect x="1371" y="755" width="6" height="61" fill="#dc343c"/><rect x="1372" y="756" width="4" height="59" fill="#df4a50"/><rect x="1378" y="798" width="6" height="10" fill="#378f75"/><rect x="1379" y="799" width="4" height="8" fill="#479980"/><rect x="1386" y="799" width="6" height="13" fill="#dc343c"/><rect x="1387" y="800" width="4" height="11" fill="#df4a50"/><rect x="1393" y="789" width="6" height="19" fill="#378f75"/><rect x="1394" y="790" width="4" height="17" fill="#479980"/><rect x="1401" y="791.5" width="6" height="3.5" fill="#dc343c"/><rect x="1402" y="792.5" width="4" height="1.5" fill="#df4a50"/><rect x="1408" y="803" width="6" height="8" fill="#dc343c"/><rect x="1409" y="804" width="4" height="6" fill="#df4a50"/><rect x="1415" y="774" width="6" height="38" fill="#378f75"/><rect x="1416" y="775" width="4" height="36" fill="#479980"/><rect x="1423" y="763" width="6" height="20" fill="#378f75"/><rect x="1424" y="764" width="4" height="18" fill="#479980"/><rect x="1430" y="725" width="6" height="41" fill="#378f75"/><rect x="1431" y="726" width="4" height="39" fill="#479980"/><rect x="1438" y="728" width="6" height="27" fill="#dc343c"/><rect x="1439" y="729" width="4" height="25" fill="#df4a50"/><rect x="1445" y="739" width="6" height="24" fill="#378f75"/><rect x="1446" y="740" width="4" height="22" fill="#479980"/><rect x="1453" y="709" width="6" height="25" fill="#378f75"/><rect x="1454" y="710" width="4" height="23" fill="#479980"/></g>
<line x1="4" y1="709" x2="1957" y2="709" stroke="#479980" stroke-width="2" stroke-dasharray="2 4"/>
<clipPath id="mc"><rect x="0" y="941" width="1957" height="125"/></clipPath>
<g clip-path="url(#mc)">
<rect x="-3" y="966" width="5" height="5.5" fill="#ec5b57"/><rect x="4" y="966" width="6" height="2.7" fill="#f8cbd1"/><rect x="12" y="966" width="5" height="9.7" fill="#ec5b57"/><rect x="19" y="966" width="6" height="11.8" fill="#ec5b57"/><rect x="27" y="966" width="5" height="12.8" fill="#ec5b57"/><rect x="34" y="966" width="6" height="10.8" fill="#f8cbd1"/><rect x="42" y="966" width="5" height="8.7" fill="#f8cbd1"/><rect x="49" y="966" width="6" height="5.8" fill="#f8cbd1"/><rect x="57" y="966" width="5" height="3.4" fill="#f8cbd1"/><rect x="64" y="966" width="6" height="4.8" fill="#ec5b57"/><rect x="71" y="966" width="6" height="3.0" fill="#f8cbd1"/><rect x="79" y="965.2" width="6" height="2.8" fill="#53a398"/><rect x="86" y="962.1" width="6" height="5.9" fill="#53a398"/><rect x="94" y="960.1" width="5" height="7.9" fill="#53a398"/><rect x="101" y="956.1" width="6" height="11.9" fill="#53a398"/><rect x="109" y="952.1" width="5" height="15.9" fill="#53a398"/><rect x="116" y="949.0" width="6" height="19.0" fill="#53a398"/><rect x="124" y="950.2" width="5" height="17.8" fill="#b5dcd8"/><rect x="131" y="950.2" width="6" height="17.8" fill="#53a398"/><rect x="139" y="948.1" width="5" height="19.9" fill="#53a398"/><rect x="146" y="949.0" width="6" height="19.0" fill="#b5dcd8"/><rect x="154" y="951.1" width="5" height="16.9" fill="#b5dcd8"/><rect x="161" y="954.2" width="6" height="13.8" fill="#b5dcd8"/><rect x="169" y="957.2" width="5" height="10.8" fill="#b5dcd8"/><rect x="176" y="957.2" width="6" height="10.8" fill="#b5dcd8"/><rect x="184" y="958.2" width="5" height="9.8" fill="#b5dcd8"/><rect x="191" y="958.2" width="6" height="9.8" fill="#53a398"/><rect x="198" y="959.1" width="6" height="8.9" fill="#b5dcd8"/><rect x="206" y="959.1" width="6" height="8.9" fill="#b5dcd8"/><rect x="213" y="960.1" width="6" height="7.9" fill="#b5dcd8"/><rect x="221" y="961.1" width="5" height="6.9" fill="#b5dcd8"/><rect x="228" y="961.1" width="6" height="6.9" fill="#b5dcd8"/><rect x="236" y="964.2" width="5" height="3.8" fill="#b5dcd8"/><rect x="243" y="962.1" width="6" height="5.9" fill="#53a398"/><rect x="251" y="961.1" width="5" height="6.9" fill="#53a398"/><rect x="258" y="962.1" width="6" height="5.9" fill="#b5dcd8"/><rect x="266" y="964.2" width="5" height="3.8" fill="#b5dcd8"/><rect x="273" y="964.2" width="6" height="3.8" fill="#b5dcd8"/><rect x="281" y="966" width="5" height="6.9" fill="#ec5b57"/><rect x="288" y="966" width="6" height="12.8" fill="#ec5b57"/><rect x="296" y="966" width="5" height="16.7" fill="#ec5b57"/><rect x="303" y="966" width="6" height="16.7" fill="#f8cbd1"/><rect x="310" y="966" width="6" height="18.8" fill="#ec5b57"/><rect x="318" y="966" width="6" height="16.7" fill="#f8cbd1"/><rect x="325" y="966" width="6" height="15.7" fill="#f8cbd1"/><rect x="333" y="966" width="5" height="15.7" fill="#ec5b57"/><rect x="340" y="966" width="6" height="9.7" fill="#f8cbd1"/><rect x="348" y="966" width="5" height="6.9" fill="#f8cbd1"/><rect x="355" y="966" width="6" height="5.8" fill="#f8cbd1"/><rect x="363" y="966" width="5" height="4.8" fill="#f8cbd1"/><rect x="370" y="965.2" width="6" height="2.8" fill="#53a398"/><rect x="378" y="962.4" width="5" height="5.6" fill="#53a398"/><rect x="385" y="965.2" width="6" height="2.8" fill="#b5dcd8"/><rect x="393" y="966" width="5" height="4.8" fill="#ec5b57"/><rect x="400" y="966" width="6" height="7.9" fill="#ec5b57"/><rect x="408" y="966" width="5" height="12.8" fill="#ec5b57"/><rect x="415" y="966" width="6" height="13.9" fill="#ec5b57"/><rect x="422" y="966" width="6" height="14.6" fill="#ec5b57"/><rect x="430" y="966" width="6" height="13.9" fill="#f8cbd1"/><rect x="437" y="966" width="6" height="10.8" fill="#f8cbd1"/><rect x="445" y="966" width="5" height="11.8" fill="#ec5b57"/><rect x="452" y="966" width="6" height="13.9" fill="#ec5b57"/><rect x="460" y="966" width="5" height="11.8" fill="#f8cbd1"/><rect x="467" y="966" width="6" height="13.9" fill="#ec5b57"/><rect x="475" y="966" width="5" height="14.6" fill="#ec5b57"/><rect x="482" y="966" width="6" height="15.7" fill="#ec5b57"/><rect x="490" y="966" width="5" height="15.7" fill="#f8cbd1"/><rect x="497" y="966" width="6" height="15.7" fill="#ec5b57"/><rect x="505" y="966" width="5" height="17.7" fill="#ec5b57"/><rect x="512" y="966" width="6" height="20.9" fill="#ec5b57"/><rect x="520" y="966" width="5" height="18.8" fill="#f8cbd1"/><rect x="527" y="966" width="6" height="18.8" fill="#ec5b57"/><rect x="534" y="966" width="6" height="18.8" fill="#f8cbd1"/><rect x="542" y="966" width="6" height="14.6" fill="#f8cbd1"/><rect x="549" y="966" width="6" height="11.8" fill="#f8cbd1"/><rect x="557" y="966" width="5" height="8.7" fill="#f8cbd1"/><rect x="564" y="966" width="6" height="5.8" fill="#f8cbd1"/><rect x="572" y="966" width="5" height="3.0" fill="#f8cbd1"/><rect x="579" y="965.9" width="6" height="2.1" fill="#53a398"/><rect x="587" y="965.2" width="5" height="2.8" fill="#53a398"/><rect x="594" y="960.1" width="6" height="7.9" fill="#53a398"/><rect x="602" y="955.1" width="5" height="12.9" fill="#53a398"/><rect x="609" y="950.2" width="6" height="17.8" fill="#53a398"/><rect x="617" y="944.1" width="5" height="23.9" fill="#53a398"/><rect x="624" y="942.2" width="6" height="25.8" fill="#53a398"/><rect x="632" y="941.0" width="5" height="27.0" fill="#53a398"/><rect x="639" y="946.2" width="6" height="21.8" fill="#b5dcd8"/><rect x="646" y="957.2" width="6" height="10.8" fill="#b5dcd8"/><rect x="654" y="966" width="6" height="3.0" fill="#ec5b57"/><rect x="661" y="966" width="6" height="7.9" fill="#ec5b57"/><rect x="669" y="966" width="5" height="11.8" fill="#ec5b57"/><rect x="676" y="966" width="6" height="14.6" fill="#ec5b57"/><rect x="684" y="966" width="5" height="14.6" fill="#f8cbd1"/><rect x="691" y="966" width="6" height="11.8" fill="#f8cbd1"/><rect x="699" y="966" width="5" height="9.7" fill="#f8cbd1"/><rect x="706" y="966" width="6" height="9.7" fill="#f8cbd1"/><rect x="714" y="966" width="5" height="7.9" fill="#f8cbd1"/><rect x="721" y="966" width="6" height="4.8" fill="#f8cbd1"/><rect x="729" y="966" width="5" height="3.0" fill="#f8cbd1"/><rect x="736" y="962.1" width="6" height="5.9" fill="#53a398"/><rect x="744" y="957.2" width="5" height="10.8" fill="#53a398"/><rect x="751" y="950.2" width="6" height="17.8" fill="#53a398"/><rect x="759" y="947.1" width="5" height="20.9" fill="#53a398"/><rect x="766" y="947.1" width="6" height="20.9" fill="#53a398"/><rect x="773" y="948.1" width="6" height="19.9" fill="#b5dcd8"/><rect x="781" y="952.1" width="6" height="15.9" fill="#b5dcd8"/><rect x="788" y="954.2" width="6" height="13.8" fill="#b5dcd8"/><rect x="796" y="957.2" width="5" height="10.8" fill="#b5dcd8"/><rect x="803" y="959.1" width="6" height="8.9" fill="#b5dcd8"/><rect x="811" y="964.2" width="5" height="3.8" fill="#b5dcd8"/><rect x="818" y="966.1" width="6" height="1.9" fill="#b5dcd8"/><rect x="826" y="966" width="5" height="5.8" fill="#ec5b57"/><rect x="833" y="966" width="6" height="13.9" fill="#ec5b57"/><rect x="841" y="966" width="5" height="23.7" fill="#ec5b57"/><rect x="848" y="966" width="6" height="31.7" fill="#ec5b57"/><rect x="856" y="966" width="5" height="37.8" fill="#ec5b57"/><rect x="863" y="966" width="6" height="40.8" fill="#ec5b57"/><rect x="871" y="966" width="5" height="39.9" fill="#f8cbd1"/><rect x="878" y="966" width="6" height="32.9" fill="#f8cbd1"/><rect x="885" y="966" width="6" height="25.8" fill="#f8cbd1"/><rect x="893" y="966" width="6" height="21.6" fill="#f8cbd1"/><rect x="900" y="966" width="6" height="17.7" fill="#f8cbd1"/><rect x="908" y="966" width="5" height="11.8" fill="#f8cbd1"/><rect x="915" y="966" width="6" height="8.7" fill="#f8cbd1"/><rect x="923" y="966" width="5" height="9.7" fill="#ec5b57"/><rect x="930" y="966" width="6" height="6.9" fill="#f8cbd1"/><rect x="938" y="966.1" width="5" height="1.9" fill="#53a398"/><rect x="945" y="964.2" width="6" height="3.8" fill="#53a398"/><rect x="953" y="963.2" width="5" height="4.8" fill="#53a398"/><rect x="960" y="965.2" width="6" height="2.8" fill="#b5dcd8"/><rect x="968" y="964.2" width="5" height="3.8" fill="#53a398"/><rect x="975" y="965.2" width="6" height="2.8" fill="#b5dcd8"/><rect x="983" y="965.2" width="5" height="2.8" fill="#b5dcd8"/><rect x="990" y="966.1" width="6" height="1.9" fill="#b5dcd8"/><rect x="997" y="962.1" width="6" height="5.9" fill="#53a398"/><rect x="1005" y="961.1" width="6" height="6.9" fill="#53a398"/><rect x="1012" y="956.2" width="6" height="11.8" fill="#53a398"/><rect x="1020" y="958.2" width="5" height="9.8" fill="#b5dcd8"/><rect x="1027" y="960.1" width="6" height="7.9" fill="#b5dcd8"/><rect x="1035" y="958.2" width="5" height="9.8" fill="#53a398"/><rect x="1042" y="963.2" width="6" height="4.8" fill="#b5dcd8"/><rect x="1050" y="964.2" width="5" height="3.8" fill="#b5dcd8"/><rect x="1057" y="965.2" width="6" height="2.8" fill="#b5dcd8"/><rect x="1065" y="966" width="5" height="3.0" fill="#ec5b57"/><rect x="1072" y="966.1" width="6" height="1.9" fill="#53a398"/><rect x="1080" y="963.2" width="5" height="4.8" fill="#53a398"/><rect x="1087" y="959.1" width="6" height="8.9" fill="#53a398"/><rect x="1095" y="957.2" width="5" height="10.8" fill="#53a398"/><rect x="1102" y="957.2" width="6" height="10.8" fill="#53a398"/><rect x="1109" y="956.2" width="6" height="11.8" fill="#53a398"/><rect x="1117" y="956.2" width="6" height="11.8" fill="#53a398"/><rect x="1124" y="958.2" width="6" height="9.8" fill="#b5dcd8"/><rect x="1132" y="962.1" width="5" height="5.9" fill="#b5dcd8"/><rect x="1139" y="964.2" width="6" height="3.8" fill="#b5dcd8"/><rect x="1147" y="963.2" width="5" height="4.8" fill="#53a398"/><rect x="1154" y="963.2" width="6" height="4.8" fill="#b5dcd8"/><rect x="1162" y="961.1" width="5" height="6.9" fill="#53a398"/><rect x="1169" y="959.1" width="6" height="8.9" fill="#53a398"/><rect x="1177" y="958.2" width="5" height="9.8" fill="#53a398"/><rect x="1184" y="959.1" width="6" height="8.9" fill="#b5dcd8"/><rect x="1192" y="959.1" width="5" height="8.9" fill="#53a398"/><rect x="1199" y="958.2" width="6" height="9.8" fill="#53a398"/><rect x="1207" y="958.2" width="5" height="9.8" fill="#b5dcd8"/><rect x="1214" y="959.1" width="6" height="8.9" fill="#b5dcd8"/><rect x="1221" y="962.1" width="6" height="5.9" fill="#b5dcd8"/><rect x="1229" y="965.2" width="6" height="2.8" fill="#b5dcd8"/><rect x="1236" y="965.2" width="6" height="2.8" fill="#b5dcd8"/><rect x="1244" y="966.1" width="6" height="1.9" fill="#b5dcd8"/><rect x="1259" y="966" width="5" height="3.0" fill="#ec5b57"/><rect x="1266" y="966.1" width="6" height="1.9" fill="#53a398"/><rect x="1274" y="965.2" width="5" height="2.8" fill="#53a398"/><rect x="1281" y="965.2" width="6" height="2.8" fill="#53a398"/><rect x="1289" y="964.2" width="5" height="3.8" fill="#53a398"/><rect x="1296" y="963.2" width="6" height="4.8" fill="#53a398"/><rect x="1304" y="962.1" width="5" height="5.9" fill="#53a398"/><rect x="1311" y="961.1" width="6" height="6.9" fill="#53a398"/><rect x="1319" y="958.2" width="5" height="9.8" fill="#53a398"/><rect x="1326" y="957.2" width="6" height="10.8" fill="#b5dcd8"/><rect x="1334" y="966.5" width="5" height="1.5" fill="#b5dcd8"/><rect x="1341" y="966" width="6" height="3.0" fill="#ec5b57"/><rect x="1348" y="966" width="6" height="5.8" fill="#ec5b57"/><rect x="1356" y="966" width="6" height="5.8" fill="#ec5b57"/><rect x="1363" y="966" width="6" height="10.8" fill="#ec5b57"/><rect x="1371" y="966" width="5" height="16.7" fill="#ec5b57"/><rect x="1378" y="966" width="6" height="18.8" fill="#ec5b57"/><rect x="1386" y="966" width="5" height="19.8" fill="#ec5b57"/><rect x="1393" y="966" width="6" height="17.7" fill="#f8cbd1"/><rect x="1401" y="966" width="5" height="16.7" fill="#f8cbd1"/><rect x="1408" y="966" width="6" height="15.7" fill="#f8cbd1"/><rect x="1416" y="966" width="5" height="11.8" fill="#f8cbd1"/><rect x="1423" y="966" width="6" height="7.9" fill="#f8cbd1"/><rect x="1431" y="966" width="5" height="3.0" fill="#f8cbd1"/><rect x="1438" y="966.1" width="6" height="1.9" fill="#53a398"/><rect x="1446" y="964.2" width="5" height="3.8" fill="#53a398"/><rect x="1453" y="960.1" width="6" height="7.9" fill="#53a398"/>
<line x1="0" y1="967" x2="1957" y2="967" stroke="#787b86" stroke-opacity="0.55" stroke-width="2" stroke-dasharray="10 12" stroke-dashoffset="8"/>
<polyline fill="none" stroke="#2f5df5" stroke-width="1.9" stroke-linejoin="round" points="0.0,972.1 5.6,972.8 14.0,978.4 22.4,983.3 30.9,986.5 43.5,986.5 51.9,983.6 60.3,982.2 65.9,983.7 74.4,981.9 84.2,976.3 95.4,970.0 106.6,959.5 116.5,948.9 123.5,946.1 133.3,940.9 145.0,934.0 200.0,915.0 260.0,915.0 290.0,930.0 302.6,940.9 311.7,947.5 326.5,951.0 335.6,955.3 342.6,951.3 351.7,949.6 365.8,948.7 374.2,941.9 377.0,940.9 382.0,939.0 388.2,941.2 398.0,948.2 409.3,958.8 416.3,962.3 424.7,967.2 431.7,969.7 440.0,969.0 447.0,971.7 454.2,976.3 461.2,976.7 471.0,982.6 483.6,990.3 497.7,996.6 506.0,1003.0 514.5,1011.0 521.5,1013.8 538.4,1022.2 551.0,1020.5 559.4,1018.8 570.6,1015.2 581.9,1011.4 589.8,1010.7 601.0,998.8 610.9,987.5 622.1,970.7 627.7,963.7 634.0,958.8 641.0,958.8 647.3,965.1 655.8,977.0 662.8,983.3 671.2,990.3 678.2,996.6 686.6,999.7 700.7,1000.2 709.0,1002.3 717.5,1001.6 731.5,997.6 738.6,990.3 745.6,982.6 754.0,972.1 762.4,962.3 769.4,956.7 776.4,953.6 790.5,953.9 804.5,952.4 812.9,956.7 820.0,958.0 827.0,963.7 836.8,976.3 845.2,993.1 850.8,1007.2 859.2,1022.6 866.2,1033.8 874.7,1042.0 881.2,1043.4 888.2,1042.2 899.5,1043.7 909.3,1040.1 917.7,1038.5 926.1,1041.8 931.7,1040.1 940.2,1033.8 947.2,1030.3 954.2,1028.6 961.9,1030.7 971.0,1027.9 982.2,1027.5 992.0,1028.2 1000.5,1022.6 1007.5,1019.8 1014.5,1012.8 1028.6,1013.5 1037.7,1008.9 1044.0,1012.8 1056.6,1013.2 1067.8,1017.3 1080.5,1010.7 1091.7,1002.3 1105.7,994.5 1119.8,990.0 1125.4,990.0 1133.8,993.4 1142.2,993.8 1156.2,990.6 1165.0,986.0 1172.6,982.6 1192.3,976.3 1203.5,971.4 1216.1,969.7 1230.2,972.8 1247.0,973.2 1261.0,977.0 1272.2,973.5 1283.5,971.4 1294.7,968.6 1305.9,964.8 1315.7,962.3 1321.4,958.1 1327.7,956.2 1335.4,960.6 1345.2,965.8 1356.4,969.0 1364.9,975.6 1373.3,985.4 1381.7,993.4 1388.7,998.3 1398.5,1001.8 1409.8,1005.8 1419.6,1003.7 1429.4,999.7 1437.8,994.5 1447.6,990.3 1456.0,985.7"/>
<polyline fill="none" stroke="#f07420" stroke-width="1.9" stroke-linejoin="round" points="0.0,967.2 14.0,970.7 28.0,975.6 42.0,979.1 56.0,980.5 67.3,981.2 78.6,980.8 91.2,978.4 105.2,973.5 116.5,967.9 129.0,959.5 140.3,953.2 151.5,946.1 165.6,941.2 180.0,936.0 240.0,925.0 300.0,932.0 333.5,940.9 343.3,943.8 356.0,945.7 365.8,946.1 377.0,944.5 391.0,943.6 402.2,946.1 416.3,951.3 424.7,955.3 438.7,959.5 448.6,963.0 458.4,966.8 472.4,972.1 486.4,979.1 500.5,985.0 508.9,988.9 517.3,993.8 531.3,1001.6 542.6,1007.9 551.0,1011.0 562.2,1013.2 570.6,1013.9 581.9,1013.5 591.2,1012.8 605.3,1007.9 619.3,998.8 627.7,990.3 641.7,979.8 651.6,977.0 662.8,978.8 675.4,984.0 686.6,988.2 700.7,992.4 714.7,995.5 728.7,996.2 742.8,993.4 756.8,985.4 770.8,974.9 784.9,967.2 798.9,962.3 812.9,960.2 821.3,959.7 832.6,962.6 841.0,967.9 850.8,978.4 860.6,990.3 870.4,1003.0 878.4,1011.4 889.6,1021.2 903.7,1028.6 917.7,1032.4 931.7,1035.0 943.0,1034.5 959.8,1032.1 976.6,1030.3 993.5,1029.6 1007.5,1026.1 1021.5,1021.9 1038.4,1017.7 1052.4,1015.9 1069.2,1015.6 1083.3,1013.5 1100.1,1007.9 1114.1,1002.7 1128.2,998.3 1142.2,996.6 1156.2,994.5 1174.0,991.0 1188.0,986.1 1202.0,981.9 1216.1,977.7 1230.2,975.6 1247.0,974.6 1261.0,975.2 1275.0,973.8 1289.0,972.1 1303.1,969.7 1317.1,967.2 1327.0,964.4 1339.6,963.7 1350.8,965.1 1362.0,967.2 1373.3,972.1 1384.5,979.1 1395.7,985.4 1406.9,990.3 1418.2,993.8 1429.4,995.7 1440.6,995.7 1449.0,994.5 1456.0,992.7"/>
</g>
<line x1="850" y1="1050" x2="1017.3" y2="1035.7" stroke="#000" stroke-width="2"/>
<line x1="1326" y1="1009.5" x2="1493.4" y2="995.3" stroke="#000" stroke-width="2"/>
<text x="1173" y="1023" transform="rotate(-4.9 1173 1023)" text-anchor="middle" dy="11.2" font-size="31.3" font-weight="700" fill="#000" textLength="285.5" lengthAdjust="spacing">Bullish Divergence</text>
<line x1="0" y1="358" x2="1914" y2="358" stroke="#9598a1" stroke-width="2" stroke-dasharray="10 12" stroke-dashoffset="8"/>
<line x1="1396" y1="0" x2="1396" y2="1068" stroke="#9598a1" stroke-width="2" stroke-dasharray="10 12" stroke-dashoffset="2"/>
<path d="M1957.5 158 H2124.5 a3.5 3.5 0 0 1 3.5 3.5 V188.5 a3.5 3.5 0 0 1 -3.5 3.5 H1957.5 Z" fill="#000"/>
<text class="ax" x="1976" y="183.5" style="fill:#fff">16.4003290</text>
<rect x="1914" y="337.5" width="41.5" height="41.5" rx="4" fill="#131722"/>
<circle cx="1934.8" cy="358.2" r="13.2" fill="none" stroke="#fff" stroke-width="1.9"/><path d="M1926.3 358.2h17M1934.8 349.7v17" stroke="#fff" stroke-width="1.9" fill="none"/>
<path d="M1957.5 337.5 H2124.5 a3.5 3.5 0 0 1 3.5 3.5 V378.5 a3.5 3.5 0 0 1 -3.5 3.5 H1957.5 Z" fill="#131722"/>
<text class="ax" x="1976" y="366.8" style="fill:#fff">15.5244986</text>
<path d="M1957.5 561 H2124.5 a3.5 3.5 0 0 1 3.5 3.5 V591.5 a3.5 3.5 0 0 1 -3.5 3.5 H1957.5 Z" fill="#6aab5c"/>
<text class="ax" x="1976" y="586.5" style="fill:#fff">14.5332307</text>
<path d="M1957.5 692 H2124.5 a3.5 3.5 0 0 1 3.5 3.5 V750.5 a3.5 3.5 0 0 1 -3.5 3.5 H1957.5 Z" fill="#46987f"/>
<text class="ax" x="1976" y="717.5" style="fill:#fff">13.9697785</text>
<text class="ax" x="1976" y="745.5" style="fill:#fff;fill-opacity:.75">39:32</text>
<text class="tm" x="343" y="1105.7" text-anchor="middle">11</text>
<text class="tm" x="522" y="1105.7" text-anchor="middle">12</text>
<text class="tm" x="702" y="1105.7" text-anchor="middle">13</text>
<text class="tm" x="881" y="1105.7" text-anchor="middle">14</text>
<text class="tm" x="1060" y="1105.7" text-anchor="middle">15</text>
<text class="tm" x="1239" y="1105.7" text-anchor="middle">16</text>
<text class="tm" x="1598" y="1105.7" text-anchor="middle">18</text>
<text class="tm" x="1777" y="1105.7" text-anchor="middle">19</text>
<text class="tm" x="164" y="1105.7" text-anchor="middle" font-weight="700">10</text>
<clipPath id="tc"><rect x="1900" y="1070" width="56" height="52"/></clipPath>
<text class="tm" x="1941" y="1105.7" clip-path="url(#tc)">20</text>
<path d="M1245 1068 H1544.5 V1111.5 a4.5 4.5 0 0 1 -4.5 4.5 H1249.5 a4.5 4.5 0 0 1 -4.5 -4.5 Z" fill="#131722"/>
<text class="tm" x="1263.5" y="1105.5" style="fill:#fff;letter-spacing:1.2px" xml:space="preserve">Sun 16 Nov '25   21:00</text>
<g fill="none" stroke="#060606" stroke-width="2.1" stroke-linejoin="miter"><path d="M2033.6 1097 L2039.8 1085 H2054.2 L2060.6 1097 L2054.2 1109 H2039.8 Z"/><circle cx="2047" cy="1097" r="3.85"/></g>
<clipPath id="fc1"><circle cx="1888.9" cy="912.9" r="15.9"/></clipPath><circle cx="1888.9" cy="912.9" r="20.35" fill="#fff" stroke="#e0404a" stroke-width="2.9"/><g clip-path="url(#fc1)"><rect x="1871.9" y="895.9" width="34" height="34" fill="#f5f6fa"/><rect x="1871.9" y="895.9" width="34" height="8" fill="#de5b54"/><rect x="1871.9" y="909.3" width="34" height="7.1" fill="#de5b54"/><rect x="1871.9" y="922.0" width="34" height="9" fill="#de5b54"/><rect x="1871.9" y="895.9" width="20.3" height="20.5" fill="#3a80dd"/><polygon points="1877.20,899.40 1877.70,900.71 1879.10,900.78 1878.01,901.66 1878.38,903.02 1877.20,902.25 1876.02,903.02 1876.39,901.66 1875.30,900.78 1876.70,900.71" fill="#fff"/><polygon points="1882.55,899.40 1883.05,900.71 1884.45,900.78 1883.36,901.66 1883.73,903.02 1882.55,902.25 1881.37,903.02 1881.74,901.66 1880.65,900.78 1882.05,900.71" fill="#fff"/><polygon points="1887.90,899.40 1888.40,900.71 1889.80,900.78 1888.71,901.66 1889.08,903.02 1887.90,902.25 1886.72,903.02 1887.09,901.66 1886.00,900.78 1887.40,900.71" fill="#fff"/><polygon points="1877.20,904.70 1877.70,906.01 1879.10,906.08 1878.01,906.96 1878.38,908.32 1877.20,907.55 1876.02,908.32 1876.39,906.96 1875.30,906.08 1876.70,906.01" fill="#fff"/><polygon points="1882.55,904.70 1883.05,906.01 1884.45,906.08 1883.36,906.96 1883.73,908.32 1882.55,907.55 1881.37,908.32 1881.74,906.96 1880.65,906.08 1882.05,906.01" fill="#fff"/><polygon points="1887.90,904.70 1888.40,906.01 1889.80,906.08 1888.71,906.96 1889.08,908.32 1887.90,907.55 1886.72,908.32 1887.09,906.96 1886.00,906.08 1887.40,906.01" fill="#fff"/><polygon points="1877.20,910.00 1877.70,911.31 1879.10,911.38 1878.01,912.26 1878.38,913.62 1877.20,912.85 1876.02,913.62 1876.39,912.26 1875.30,911.38 1876.70,911.31" fill="#fff"/><polygon points="1882.55,910.00 1883.05,911.31 1884.45,911.38 1883.36,912.26 1883.73,913.62 1882.55,912.85 1881.37,913.62 1881.74,912.26 1880.65,911.38 1882.05,911.31" fill="#fff"/><polygon points="1887.90,910.00 1888.40,911.31 1889.80,911.38 1888.71,912.26 1889.08,913.62 1887.90,912.85 1886.72,913.62 1887.09,912.26 1886.00,911.38 1887.40,911.31" fill="#fff"/></g>
<clipPath id="fc2"><circle cx="1933.9" cy="912.9" r="15.9"/></clipPath><circle cx="1933.9" cy="912.9" r="20.35" fill="#fff" stroke="#e0404a" stroke-width="2.9"/><g clip-path="url(#fc2)"><rect x="1916.9" y="895.9" width="34" height="34" fill="#f5f6fa"/><rect x="1916.9" y="895.9" width="34" height="8" fill="#de5b54"/><rect x="1916.9" y="909.3" width="34" height="7.1" fill="#de5b54"/><rect x="1916.9" y="922.0" width="34" height="9" fill="#de5b54"/><rect x="1916.9" y="895.9" width="20.3" height="20.5" fill="#3a80dd"/><polygon points="1922.20,899.40 1922.70,900.71 1924.10,900.78 1923.01,901.66 1923.38,903.02 1922.20,902.25 1921.02,903.02 1921.39,901.66 1920.30,900.78 1921.70,900.71" fill="#fff"/><polygon points="1927.55,899.40 1928.05,900.71 1929.45,900.78 1928.36,901.66 1928.73,903.02 1927.55,902.25 1926.37,903.02 1926.74,901.66 1925.65,900.78 1927.05,900.71" fill="#fff"/><polygon points="1932.90,899.40 1933.40,900.71 1934.80,900.78 1933.71,901.66 1934.08,903.02 1932.90,902.25 1931.72,903.02 1932.09,901.66 1931.00,900.78 1932.40,900.71" fill="#fff"/><polygon points="1922.20,904.70 1922.70,906.01 1924.10,906.08 1923.01,906.96 1923.38,908.32 1922.20,907.55 1921.02,908.32 1921.39,906.96 1920.30,906.08 1921.70,906.01" fill="#fff"/><polygon points="1927.55,904.70 1928.05,906.01 1929.45,906.08 1928.36,906.96 1928.73,908.32 1927.55,907.55 1926.37,908.32 1926.74,906.96 1925.65,906.08 1927.05,906.01" fill="#fff"/><polygon points="1932.90,904.70 1933.40,906.01 1934.80,906.08 1933.71,906.96 1934.08,908.32 1932.90,907.55 1931.72,908.32 1932.09,906.96 1931.00,906.08 1932.40,906.01" fill="#fff"/><polygon points="1922.20,910.00 1922.70,911.31 1924.10,911.38 1923.01,912.26 1923.38,913.62 1922.20,912.85 1921.02,913.62 1921.39,912.26 1920.30,911.38 1921.70,911.31" fill="#fff"/><polygon points="1927.55,910.00 1928.05,911.31 1929.45,911.38 1928.36,912.26 1928.73,913.62 1927.55,912.85 1926.37,913.62 1926.74,912.26 1925.65,911.38 1927.05,911.31" fill="#fff"/><polygon points="1932.90,910.00 1933.40,911.31 1934.80,911.38 1933.71,912.26 1934.08,913.62 1932.90,912.85 1931.72,913.62 1932.09,912.26 1931.00,911.38 1932.40,911.31" fill="#fff"/></g>
<circle cx="28" cy="30" r="18.1" fill="#3a5fd9"/>
<polygon points="28.00,20.60 36.31,25.40 36.31,35.00 28.00,39.80 19.69,35.00 19.69,25.40" fill="none" stroke="#fff" stroke-width="4.7" stroke-linejoin="miter"/>
<text x="54" y="42.3" font-size="32.6" fill="#131722" textLength="380" lengthAdjust="spacing" xml:space="preserve">ChainLink / US Dollar · 1h ·</text>
<rect x="9.2" y="61.2" width="55.8" height="39.8" rx="6" fill="#fff" stroke="#d0d1d4" stroke-width="1.7"/>
<path d="M29 77.4 L37 84.6 L45 77.4" fill="none" stroke="#0a0a0a" stroke-width="2.9"/>
<rect x="1845.3" y="7.2" width="45" height="45.2" rx="6" fill="#fff" stroke="#e9e9e9" stroke-width="2"/>
<rect x="1901.6" y="7.2" width="45" height="45.2" rx="6" fill="#fff" stroke="#e9e9e9" stroke-width="2"/>
<path d="M1867.7 21 V39.5 M1859.3 32 L1867.7 40.3 L1876.2 32" fill="none" stroke="#0a0a0a" stroke-width="2"/>
<path d="M1914 27.4 V25 a5 5 0 0 1 5 -5 H1928.8 a5 5 0 0 1 5 5 V27.4 M1933.8 33 V35 a5 5 0 0 1 -5 5 H1919 a5 5 0 0 1 -5 -5 V33" fill="none" stroke="#0a0a0a" stroke-width="2"/>
<rect x="1965.3" y="7" width="161.7" height="49.4" rx="6.5" fill="#fff" stroke="#e9e9e9" stroke-width="2"/>
<text x="1972.3" y="41" font-size="23.6" fill="#0a0a0a" letter-spacing="0">USD</text>
<path d="M2107.3 29.8 L2112.8 35 L2118.3 29.8" fill="none" stroke="#0a0a0a" stroke-width="2.2"/>
<rect x="2136" y="0" width="2" height="1122" fill="#ececec"/>
<g fill="#0f0f0f"><path d="M16.1 1010.3 H39.7 V1039.7 H28 V1021.9 H16.1 Z"/><circle cx="49.8" cy="1013.9" r="5.9"/><path d="M61.3 1010.3 H75.8 L64.3 1039.7 H50.2 Z"/></g>
<text x="89" y="1039.5" font-size="41.2" font-weight="700" fill="#0f0f0f" textLength="242" lengthAdjust="spacingAndGlyphs">TradingView</text>
</svg></body></html>
